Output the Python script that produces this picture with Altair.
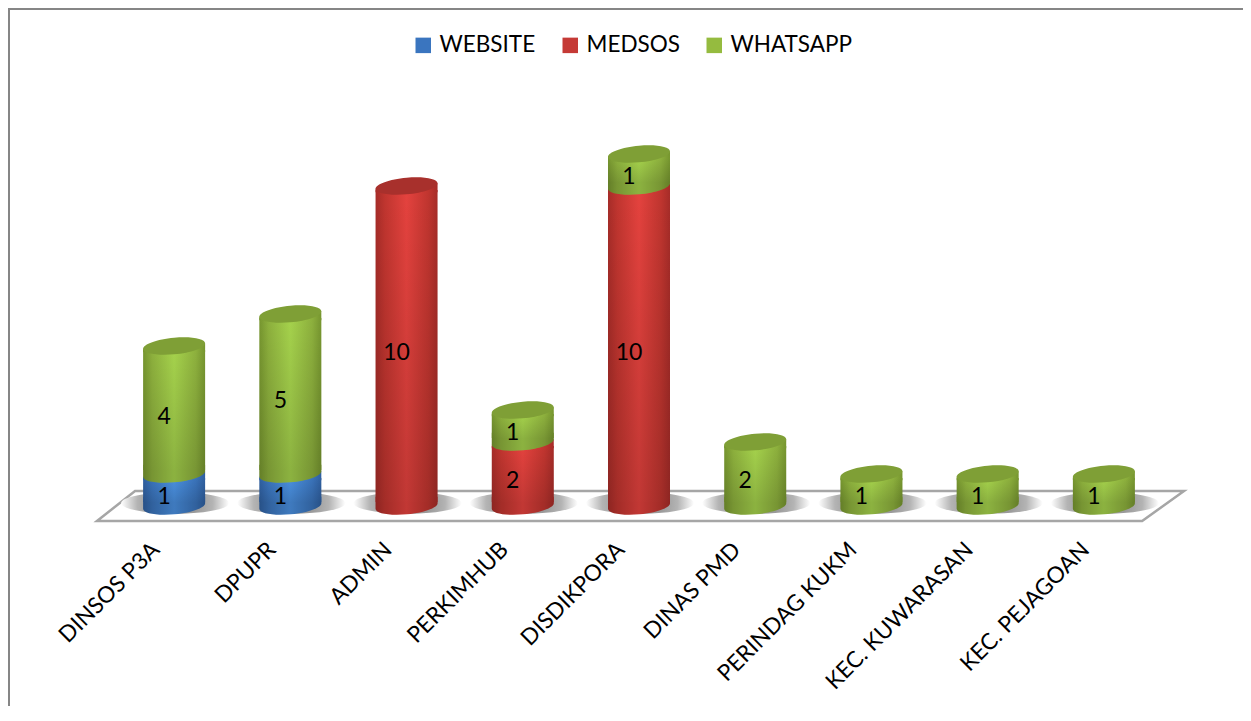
import altair as alt
import pandas as pd

categories = ["DINSOS P3A", "DPUPR", "ADMIN", "PERKIMHUB", "DISDIKPORA", "DINAS PMD",
              "PERINDAG KUKM", "KEC. KUWARASAN", "KEC. PEJAGOAN"]
website = [1, 1, 0, 0, 0, 0, 0, 0, 0]
medsos = [0, 0, 10, 2, 10, 0, 0, 0, 0]
whatsapp = [4, 5, 0, 1, 1, 2, 1, 1, 1]
series_names = ["WEBSITE", "MEDSOS", "WHATSAPP"]
legend_colors = ["#3A75BF", "#C53A36", "#95BB3F"]
edge_colors = ["#2F5F9F", "#A62C28", "#76952F"]
soft_colors = ["#3A73BA", "#C0352F", "#8DB03D"]
mid_colors = ["#4A90E0", "#E4423E", "#A5D24C"]
cap_colors = ["#3A6FB0", "#A8302C", "#7F9F36"]

PX = 32.0  # pixels per unit on the y scale
TRIM = 4 / PX

rows = []
for i, c in enumerate(categories):
    base = 0
    for name, vals in zip(series_names, [website, medsos, whatsapp]):
        v = vals[i]
        if v:
            rows.append(dict(cat=c, series=name, value=v, y0=base, y1=base + v,
                             mid=base + v / 2, lo=base + TRIM, hi=base + v - TRIM))
            base += v
df = pd.DataFrame(rows)
base_df = pd.DataFrame({"cat": categories, "zero": [0] * len(categories)})

# unit-square shapes
S, B, K = 0.09, 0.27, 0.5523


def sh(x, y):
    return f"{x:.4f},{y - S * x:.4f}"


def half_front():
    return (f"C{sh(1, K * B)} {sh(K, B)} {sh(0, B)} "
            f"C{sh(-K, B)} {sh(-1, K * B)} {sh(-1, 0)}")


def half_back():
    return (f"C{sh(-1, -K * B)} {sh(-K, -B)} {sh(0, -B)} "
            f"C{sh(K, -B)} {sh(1, -K * B)} {sh(1, 0)}")


ELLIPSE = f"M{sh(1, 0)} {half_front()} {half_back()} Z"
CUP = f"M1,-0.3 L{sh(1, 0)} {half_front()} L-1,-0.3 Z"
CUP_SHADE = f"M1,-0.129 L{sh(1, 0)} {half_front()} L-1,-0.129 Z"
COLLAR = f"M{sh(-1, 0)} L{sh(1, 0)} L1,0.2 L-1,0.2 Z"
SHADOW = "M1,0 C1,0.11 0.55,0.2 0,0.2 C-0.55,0.2 -1,0.11 -1,0 C-1,-0.11 -0.55,-0.2 0,-0.2 C0.55,-0.2 1,-0.11 1,0 Z"
FLOOR = "M-1,0.0276 L-0.93,-0.0276 L1,-0.0276 L0.923,0.0276 Z"

xenc = alt.X("cat:N", sort=categories, title=None,
             scale=alt.Scale(domain=categories, paddingInner=0, paddingOuter=0),
             axis=alt.Axis(labelAngle=-45, labelAlign="right", labelFontSize=22.6, labelFont="Lato",
                           labelColor="#000000", labelPadding=32, domain=False, ticks=False,
                           grid=False, labelOverlap=False, labelLimit=400, labelOffset=-26))
yscale = alt.Scale(domain=[0, 12], nice=False, zero=False)
SIZE = 62 ** 2
SHADE = 0.15


def grad(i):
    return alt.Gradient(gradient="linear", x1=0, x2=1, y1=0, y2=0, stops=[
        alt.GradientStop(offset=0, color=edge_colors[i]),
        alt.GradientStop(offset=0.15, color=soft_colors[i]),
        alt.GradientStop(offset=0.5, color=mid_colors[i]),
        alt.GradientStop(offset=0.85, color=soft_colors[i]),
        alt.GradientStop(offset=1, color=edge_colors[i]),
    ])


vshade = alt.Gradient(gradient="linear", x1=0, x2=0, y1=0, y2=1, stops=[
    alt.GradientStop(offset=0, color="rgba(0,0,0,0)"),
    alt.GradientStop(offset=1, color=f"rgba(0,0,0,{SHADE})"),
])

left_rule = alt.Chart(base_df.head(1)).mark_rule(color="#868686", strokeWidth=2).encode(
    x=alt.value(-107), y=alt.value(-114), y2=alt.value(590))
top_rule = alt.Chart(base_df.head(1)).mark_rule(color="#868686", strokeWidth=2).encode(
    x=alt.value(-108), x2=alt.value(1127), y=alt.value(-113))

floor = alt.Chart(pd.DataFrame({"cat": ["DISDIKPORA"], "zero": [0]})).mark_point(
    shape=FLOOR, size=(2 * 543.5) ** 2, filled=True, fill="white", stroke="#A6A6A6",
    strokeWidth=2.5, opacity=1, xOffset=1.5
).encode(x=xenc, y=alt.Y("zero:Q", scale=yscale, axis=None))

shadow = alt.Chart(base_df).mark_point(
    shape=SHADOW, size=(2 * 54) ** 2, filled=True, strokeWidth=0, opacity=1, xOffset=1, yOffset=-3,
    fill=alt.Gradient(gradient="radial", x1=0.5, y1=0.5, x2=0.5, y2=0.5, r1=0.2, r2=0.5, stops=[
        alt.GradientStop(offset=0, color="#999999"),
        alt.GradientStop(offset=0.5, color="#B4B4B4"),
        alt.GradientStop(offset=1, color="#FFFFFF"),
    ])
).encode(x=xenc, y=alt.Y("zero:Q", scale=yscale, axis=None))

legend_bars = alt.Chart(df).mark_bar(size=2).encode(
    x=xenc,
    y=alt.Y("lo:Q", scale=yscale, axis=None),
    y2="hi:Q",
    color=alt.Color("series:N", sort=series_names,
                    scale=alt.Scale(domain=series_names, range=legend_colors),
                    legend=alt.Legend(orient="none", legendX=296, legendY=-88, direction="horizontal",
                                      title=None, symbolType="square", symbolSize=240,
                                      symbolStrokeWidth=0, labelFont="Lato", labelFontSize=22.5,
                                      labelColor="#000000", columnPadding=23, labelOffset=5,
                                      labelLimit=300)),
)

layers = [left_rule, top_rule, floor, shadow, legend_bars]
for i, name in enumerate(series_names):
    sub = df[df.series == name]
    g = grad(i)
    layers.append(alt.Chart(sub).mark_point(shape=CUP, size=SIZE, filled=True, fill=g, strokeWidth=0, opacity=1)
                  .encode(x=xenc, y=alt.Y("y0:Q", scale=yscale, axis=None)))
    layers.append(alt.Chart(sub).mark_bar(size=62, fill=g, strokeWidth=0)
                  .encode(x=xenc, y=alt.Y("lo:Q", scale=yscale, axis=None), y2="hi:Q"))
    layers.append(alt.Chart(sub).mark_point(shape=COLLAR, size=SIZE, filled=True, fill=g, strokeWidth=0, opacity=1)
                  .encode(x=xenc, y=alt.Y("y1:Q", scale=yscale, axis=None)))
    layers.append(alt.Chart(sub).mark_bar(size=62, fill=vshade, strokeWidth=0)
                  .encode(x=xenc, y=alt.Y("lo:Q", scale=yscale, axis=None), y2="hi:Q"))
    layers.append(alt.Chart(sub).mark_point(shape=CUP_SHADE, size=SIZE, filled=True, fill="#000000",
                                            strokeWidth=0, opacity=SHADE)
                  .encode(x=xenc, y=alt.Y("y0:Q", scale=yscale, axis=None)))

top_series = df.sort_values("y1").groupby("cat", sort=False).tail(1)
layers.append(alt.Chart(top_series).mark_point(shape=ELLIPSE, size=SIZE, filled=True, strokeWidth=0, opacity=1)
              .encode(x=xenc, y=alt.Y("y1:Q", scale=yscale, axis=None),
                      fill=alt.Fill("series:N", scale=alt.Scale(domain=series_names, range=cap_colors), legend=None)))

layers.append(alt.Chart(df).mark_text(font="Lato", fontSize=23, color="#000000", dx=-10, dy=7, baseline="middle")
              .encode(x=xenc, y=alt.Y("mid:Q", scale=yscale, axis=None), text="value:Q"))

chart = alt.layer(*layers).resolve_scale(fill="independent").properties(
    width=1046, height=384,
    padding={"left": 108, "top": 114, "right": 81, "bottom": 200},
    autosize=alt.AutoSizeParams(type="none"),
    background="white",
).configure_view(stroke=None)

chart.save("out.html", embed_options={"renderer": "svg", "actions": False})
